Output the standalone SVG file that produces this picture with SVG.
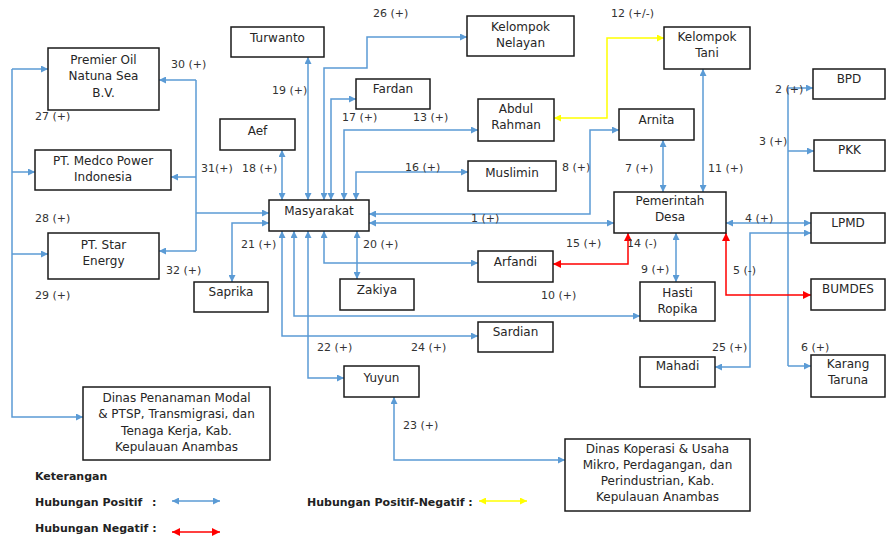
<svg xmlns="http://www.w3.org/2000/svg" width="886" height="537" viewBox="0 0 886 537">
<style>
.box{fill:#fff;stroke:#1a1a1a;stroke-width:1.5}
.t{font-family:"DejaVu Sans",Verdana,sans-serif;font-size:12px;fill:#262626;text-anchor:middle}
.l{font-family:"DejaVu Sans",Verdana,sans-serif;font-size:11px;fill:#333}
.g{font-family:"DejaVu Sans",Verdana,sans-serif;font-size:11px;font-weight:bold;fill:#222}
.b{fill:none;stroke:#5B9BD5;stroke-width:1.5;marker-start:url(#ab);marker-end:url(#ab)}
.be{fill:none;stroke:#5B9BD5;stroke-width:1.5;marker-end:url(#ab)}
.bn{fill:none;stroke:#5B9BD5;stroke-width:1.5}
.r{fill:none;stroke:#FF0000;stroke-width:1.5;marker-start:url(#ar);marker-end:url(#ar)}
.y{fill:none;stroke:#FFFF00;stroke-width:1.5;marker-start:url(#ay);marker-end:url(#ay)}
</style>
<defs>
<marker id="ab" viewBox="0 0 10 10" refX="10" refY="5" markerWidth="8" markerHeight="7" markerUnits="userSpaceOnUse" orient="auto-start-reverse"><path d="M0,0 L10,5 L0,10 z" fill="#5B9BD5"/></marker>
<marker id="ar" viewBox="0 0 10 10" refX="10" refY="5" markerWidth="8" markerHeight="8" markerUnits="userSpaceOnUse" orient="auto-start-reverse"><path d="M0,0 L10,5 L0,10 z" fill="#FF0000"/></marker>
<marker id="ay" viewBox="0 0 10 10" refX="10" refY="5" markerWidth="8" markerHeight="7" markerUnits="userSpaceOnUse" orient="auto-start-reverse"><path d="M0,0 L10,5 L0,10 z" fill="#FFFF00"/></marker>
</defs>
<rect width="886" height="537" fill="#fff"/>

<g id="connectors">
<path class="be" d="M12,69 V417 H83"/>
<path class="be" d="M12,69 H48"/>
<path class="be" d="M12,172 H35"/>
<path class="be" d="M12,254 H48"/>
<path class="bn" d="M196,80 V251"/>
<path class="be" d="M196,80 H159"/>
<path class="be" d="M196,177 H171"/>
<path class="be" d="M196,251 H159"/>
<path class="be" d="M196,213 H269"/>
<path class="b" d="M269,223 H232 V282"/>
<path class="b" d="M282,150 V200"/>
<path class="b" d="M308,57 V200"/>
<path class="b" d="M324,200 V68 H367 V37 H467"/>
<path class="b" d="M331,200 V99 H356"/>
<path class="b" d="M344,200 V130 H478"/>
<path class="b" d="M356,200 V172 H468"/>
<path class="b" d="M369,214 H590 V130 H619"/>
<path class="b" d="M369,223 H614"/>
<path class="b" d="M324,231 V263 H478"/>
<path class="b" d="M357,231 V279"/>
<path class="b" d="M294,231 V316 H640"/>
<path class="b" d="M282,231 V336 H478"/>
<path class="b" d="M308,231 V378 H344"/>
<path class="b" d="M394,397 V460 H565"/>
<path class="b" d="M663,140 V192"/>
<path class="b" d="M703,69 V192"/>
<path class="b" d="M676,233 V282"/>
<path class="b" d="M726,223 H811"/>
<path class="b" d="M715,367 H750 V233 H811"/>
<path class="bn" d="M788,88 V366"/>
<path class="be" d="M788,88 H813"/>
<path class="be" d="M788,151 H814"/>
<path class="be" d="M788,366 H811"/>
<path class="r" d="M628,233 V264 H553"/>
<path class="r" d="M726,233 V295 H811"/>
<path class="y" d="M554,118 H607 V38 H664"/>
</g>

<g id="n-premier"><rect class="box" x="48" y="48" width="111" height="62"/><text class="t" x="103.5" y="64">Premier Oil</text><text class="t" x="103.5" y="80">Natuna Sea</text><text class="t" x="103.5" y="97">B.V.</text></g>
<g id="n-medco"><rect class="box" x="35" y="150" width="136" height="40"/><text class="t" x="103" y="165">PT. Medco Power</text><text class="t" x="103" y="181">Indonesia</text></g>
<g id="n-star"><rect class="box" x="48" y="233" width="111" height="46"/><text class="t" x="103.5" y="249">PT. Star</text><text class="t" x="103.5" y="265">Energy</text></g>
<g id="n-dinaspm"><rect class="box" x="83" y="387" width="187" height="73"/><text class="t" x="176.5" y="402">Dinas Penanaman Modal</text><text class="t" x="176.5" y="418">&amp; PTSP, Transmigrasi, dan</text><text class="t" x="176.5" y="435">Tenaga Kerja, Kab.</text><text class="t" x="176.5" y="451">Kepulauan Anambas</text></g>
<g id="n-turwanto"><rect class="box" x="231" y="27" width="93" height="30"/><text class="t" x="277.5" y="42">Turwanto</text></g>
<g id="n-aef"><rect class="box" x="220" y="119" width="75" height="31"/><text class="t" x="257.5" y="135">Aef</text></g>
<g id="n-masyarakat"><rect class="box" x="269" y="200" width="100" height="31"/><text class="t" x="319" y="215">Masyarakat</text></g>
<g id="n-saprika"><rect class="box" x="194" y="282" width="74" height="30"/><text class="t" x="231" y="296">Saprika</text></g>
<g id="n-zakiya"><rect class="box" x="340" y="279" width="74" height="31"/><text class="t" x="377" y="294">Zakiya</text></g>
<g id="n-fardan"><rect class="box" x="356" y="79" width="74" height="30"/><text class="t" x="393" y="93">Fardan</text></g>
<g id="n-nelayan"><rect class="box" x="467" y="16" width="107" height="40"/><text class="t" x="520.5" y="31">Kelompok</text><text class="t" x="520.5" y="47">Nelayan</text></g>
<g id="n-abdul"><rect class="box" x="478" y="99" width="76" height="42"/><text class="t" x="516" y="113">Abdul</text><text class="t" x="516" y="129">Rahman</text></g>
<g id="n-muslimin"><rect class="box" x="468" y="161" width="88" height="30"/><text class="t" x="512" y="177">Muslimin</text></g>
<g id="n-arfandi"><rect class="box" x="478" y="251" width="75" height="31"/><text class="t" x="515.5" y="266">Arfandi</text></g>
<g id="n-sardian"><rect class="box" x="478" y="322" width="75" height="30"/><text class="t" x="515.5" y="336">Sardian</text></g>
<g id="n-yuyun"><rect class="box" x="344" y="366" width="75" height="31"/><text class="t" x="381.5" y="382">Yuyun</text></g>
<g id="n-dinaskop"><rect class="box" x="565" y="439" width="185" height="72"/><text class="t" x="657.5" y="453">Dinas Koperasi &amp; Usaha</text><text class="t" x="657.5" y="469">Mikro, Perdagangan, dan</text><text class="t" x="657.5" y="485">Perindustrian, Kab.</text><text class="t" x="657.5" y="501">Kepulauan Anambas</text></g>
<g id="n-tani"><rect class="box" x="664" y="27" width="86" height="42"/><text class="t" x="707" y="41">Kelompok</text><text class="t" x="707" y="57">Tani</text></g>
<g id="n-arnita"><rect class="box" x="619" y="109" width="75" height="31"/><text class="t" x="656.5" y="124">Arnita</text></g>
<g id="n-pemdes"><rect class="box" x="614" y="192" width="112" height="41"/><text class="t" x="670" y="205">Pemerintah</text><text class="t" x="670" y="221">Desa</text></g>
<g id="n-hasti"><rect class="box" x="640" y="282" width="75" height="39"/><text class="t" x="677.5" y="297">Hasti</text><text class="t" x="677.5" y="313">Ropika</text></g>
<g id="n-mahadi"><rect class="box" x="640" y="357" width="75" height="30"/><text class="t" x="677.5" y="370">Mahadi</text></g>
<g id="n-bpd"><rect class="box" x="813" y="69" width="72" height="30"/><text class="t" x="849" y="83">BPD</text></g>
<g id="n-pkk"><rect class="box" x="814" y="140" width="71" height="31"/><text class="t" x="849.5" y="154">PKK</text></g>
<g id="n-lpmd"><rect class="box" x="811" y="213" width="74" height="30"/><text class="t" x="848" y="227">LPMD</text></g>
<g id="n-bumdes"><rect class="box" x="811" y="279" width="74" height="31"/><text class="t" x="848" y="293">BUMDES</text></g>
<g id="n-karang"><rect class="box" x="811" y="355" width="74" height="42"/><text class="t" x="848" y="368">Karang</text><text class="t" x="848" y="384">Taruna</text></g>

<g id="labels">
<text class="l" x="171" y="68">30 (+)</text>
<text class="l" x="35" y="120">27 (+)</text>
<text class="l" x="272" y="94">19 (+)</text>
<text class="l" x="201" y="172">31(+)</text>
<text class="l" x="242" y="172">18 (+)</text>
<text class="l" x="35" y="222">28 (+)</text>
<text class="l" x="241" y="248">21 (+)</text>
<text class="l" x="166" y="274">32 (+)</text>
<text class="l" x="35" y="299">29 (+)</text>
<text class="l" x="373" y="17">26 (+)</text>
<text class="l" x="342" y="121">17 (+)</text>
<text class="l" x="413" y="121">13 (+)</text>
<text class="l" x="405" y="171">16 (+)</text>
<text class="l" x="562" y="171">8 (+)</text>
<text class="l" x="611" y="17">12 (+/-)</text>
<text class="l" x="775" y="93">2 (+)</text>
<text class="l" x="759" y="145">3 (+)</text>
<text class="l" x="625" y="172">7 (+)</text>
<text class="l" x="708" y="172">11 (+)</text>
<text class="l" x="471" y="222">1 (+)</text>
<text class="l" x="745" y="222">4 (+)</text>
<text class="l" x="363" y="248">20 (+)</text>
<text class="l" x="566" y="247">15 (+)</text>
<text class="l" x="627" y="247">14 (-)</text>
<text class="l" x="641" y="273">9 (+)</text>
<text class="l" x="733" y="274">5 (-)</text>
<text class="l" x="541" y="299">10 (+)</text>
<text class="l" x="317" y="351">22 (+)</text>
<text class="l" x="411" y="351">24 (+)</text>
<text class="l" x="712" y="351">25 (+)</text>
<text class="l" x="801" y="351">6 (+)</text>
<text class="l" x="403" y="429">23 (+)</text>
</g>

<g id="legend">
<text class="g" x="35" y="480">Keterangan</text>
<text class="g" x="35" y="506">Hubungan Positif<tspan x="152">:</tspan></text>
<path class="b" d="M172,501 H220"/>
<text class="g" x="35" y="532">Hubungan Negatif :</text>
<path class="r" d="M172,532 H220"/>
<text class="g" x="307" y="506">Hubungan Positif-Negatif :</text>
<path class="y" d="M479,501 H527"/>
</g>
</svg>
